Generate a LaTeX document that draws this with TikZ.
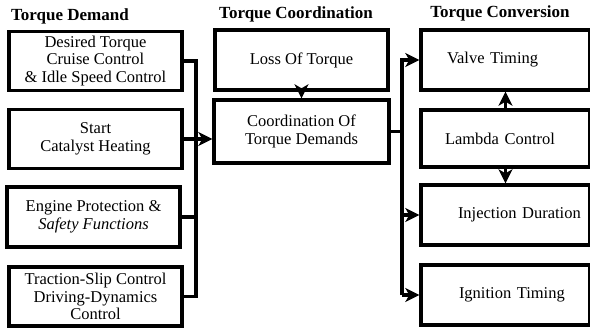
\documentclass[tikz,border=0pt]{standalone}
\usepackage{fontspec}
\setmainfont{Liberation Serif}
\usetikzlibrary{arrows.meta}
\tikzset{
  box/.style={draw, line width=3.4pt, minimum width=173pt, minimum height=59pt,
    align=center, inner sep=0pt, font=\fontsize{16.5}{17.5}\selectfont},
  rbox/.style={box, minimum width=169pt, text width=169pt, align=left},
  head/.style={font=\fontsize{17}{18}\selectfont\bfseries, inner sep=0pt},
  wire/.style={line width=3.2pt},
  feed/.style={wire, -{Stealth[length=14pt,width=14pt,inset=4pt]}}
}
\begin{document}
\begin{tikzpicture}[x=1pt,y=-1pt]
\useasboundingbox (0,0) rectangle (590,329);
\node [head, anchor=west] (hdem) at (11,16) {Torque Demand};
\node [head] (hcoo) at (296,14) {Torque Coordination};
\node [head] (hcon) at (500,13) {Torque Conversion};
\node [box] (dem1) at (95.5,61) {Desired Torque\\Cruise Control\\\& Idle Speed Control};
\node [box] (dem2) at (95.5,139) {Start\\Catalyst Heating};
\node [box, minimum height=60pt] (dem3) at (93.5,217) {Engine Protection \&\\\textit{Safety Functions}};
\node [box] (dem4) at (95.5,296.5) {Traction-Slip Control\\Driving-Dynamics\\Control};
\node [box, minimum height=60pt] (loss) at (301.5,60) {Loss Of Torque};
\node [box, minimum width=175pt, minimum height=63pt] (coord) at (301.5,131.5) {Coordination Of\\Torque Demands};
\node [rbox, minimum height=60pt] (valve) at (505.5,60) {\hspace*{26pt}Valve Timing};
\node [rbox, minimum height=57pt] (lambda) at (505.5,138.5) {\hspace*{24pt}Lambda Control};
\node [rbox, minimum height=60pt] (inject) at (505.5,215) {\hspace*{37pt}Injection Duration};
\node [rbox, minimum height=60pt] (ignit) at (505.5,295) {\hspace*{38pt}Ignition Timing};
\coordinate (lbus) at (196,0);
\coordinate (rbus) at (402,0);
\draw [wire] (dem1.east) -- (dem1.east -| lbus) -- (dem4.east -| lbus) -- (dem4.east);
\draw [wire] (dem3.east) -- (dem3.east -| lbus);
\draw [feed] (dem2.east) -- (dem2.east -| coord.west);
\draw [feed] (loss.south) -- (coord.north);
\draw [wire] (coord.east) -- (coord.east -| rbus);
\draw [feed] (ignit.west -| rbus) -- (valve.west -| rbus) -- (valve.west);
\draw [feed] (inject.west -| rbus) -- (inject.west);
\draw [feed] (ignit.west -| rbus) -- (ignit.west);
\draw [feed] (lambda.north) -- (valve.south);
\draw [feed] (lambda.south) -- (inject.north);
\end{tikzpicture}
\end{document}
